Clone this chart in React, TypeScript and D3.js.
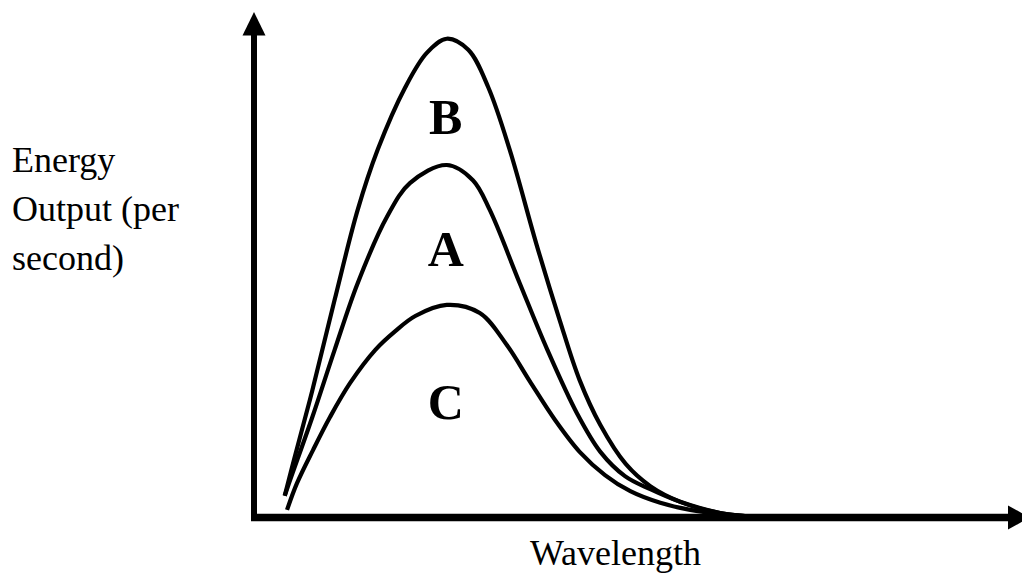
import { useEffect, useRef } from "react";
import * as d3 from "d3";

// [wavelength, energy] (arbitrary units)
const curveB: [number, number][] = [
  [0.4, 0.43], [0.52, 1.14], [0.76, 2.52], [1.05, 4.31], [1.35, 6.09],
  [1.61, 7.28], [1.97, 8.52], [2.25, 9.2], [2.51, 9.48], [2.79, 9.26],
  [3.05, 8.52], [3.33, 7.28], [3.68, 5.4], [3.98, 3.91], [4.24, 2.72],
  [4.51, 1.83], [4.84, 1.06], [5.16, 0.62], [5.55, 0.31], [6.07, 0.09],
  [6.59, 0.01], [7.17, 0],
];
const curveA: [number, number][] = [
  [0.4, 0.43], [0.47, 0.74], [0.76, 1.99], [1.05, 3.32], [1.35, 4.64],
  [1.73, 5.95], [2.03, 6.62], [2.51, 6.98], [2.85, 6.68], [3.07, 6.09],
  [3.46, 4.64], [3.82, 3.32], [4.21, 2.05], [4.51, 1.3], [4.83, 0.82],
  [5.16, 0.56], [5.55, 0.31], [6.07, 0.09], [6.59, 0.01], [7.17, 0],
];
const curveC: [number, number][] = [
  [0.43, 0.15], [0.56, 0.68], [0.77, 1.34], [0.99, 1.99], [1.25, 2.66],
  [1.58, 3.32], [1.84, 3.69], [2.1, 3.99], [2.51, 4.21], [2.94, 4.05],
  [3.29, 3.42], [3.59, 2.7], [3.92, 1.93], [4.24, 1.3], [4.57, 0.84],
  [4.9, 0.52], [5.29, 0.29], [5.68, 0.15], [6.07, 0.07], [6.59, 0.01], [7.17, 0],
];
const series = [curveB, curveA, curveC];

const curveLabels = ["B", "A", "C"];
const labelPos: [number, number][] = [[2.51, 7.6], [2.51, 4.99], [2.51, 1.95]];
const yTitle = ["Energy", "Output (per", "second)"];
const xTitle = "Wavelength";

export default function App() {
  const ref = useRef<SVGSVGElement>(null);

  useEffect(() => {
    const width = 1022;
    const height = 573;
    const svg = d3.select(ref.current);
    svg.selectAll("*").remove();

    const x = d3.scaleLinear().domain([0, 10]).range([254, 1022]);
    const y = d3.scaleLinear().domain([0, 10]).range([517.5, 12.5]);
    const serif = "'Liberation Serif', 'Times New Roman', Times, serif";

    const x0 = x(0);
    const y0 = y(0);

    // y axis with arrow
    svg.append("line")
      .attr("x1", x0).attr("x2", x0)
      .attr("y1", y0 + 3.5).attr("y2", y(10) + 22)
      .attr("stroke", "#000").attr("stroke-width", 6);
    svg.append("path")
      .attr("d", `M${x0},${y(10) - 0.5}L${x0 - 11.5},${y(10) + 23}L${x0 + 11.5},${y(10) + 23}Z`)
      .attr("fill", "#000");

    // x axis with arrow
    svg.append("line")
      .attr("x1", x0 - 3).attr("x2", x(10) - 14)
      .attr("y1", y0).attr("y2", y0)
      .attr("stroke", "#000").attr("stroke-width", 7.5);
    svg.append("path")
      .attr("d", `M${x(10) + 8},${y0}L${x(10) - 14},${y0 - 12}L${x(10) - 14},${y0 + 12}Z`)
      .attr("fill", "#000");

    const line = d3.line<[number, number]>()
      .x((d) => x(d[0]))
      .y((d) => y(d[1]))
      .curve(d3.curveCatmullRom.alpha(0.5));

    svg.selectAll("path.curve")
      .data(series)
      .enter()
      .append("path")
      .attr("class", "curve")
      .attr("d", (d) => line(d))
      .attr("fill", "none")
      .attr("stroke", "#000")
      .attr("stroke-width", 4.2);

    svg.selectAll("text.lbl")
      .data(curveLabels)
      .enter()
      .append("text")
      .attr("class", "lbl")
      .attr("x", (_, i) => x(labelPos[i][0]) - 1)
      .attr("y", (_, i) => y(labelPos[i][1]))
      .attr("text-anchor", "middle")
      .attr("font-family", serif)
      .attr("font-weight", "bold")
      .attr("font-size", 50)
      .text((d) => d);

    svg.selectAll("text.ytitle")
      .data(yTitle)
      .enter()
      .append("text")
      .attr("class", "ytitle")
      .attr("x", 12)
      .attr("y", (_, i) => 172 + i * 49)
      .attr("font-family", serif)
      .attr("font-size", 36)
      .text((d) => d);

    svg.append("text")
      .attr("x", 615.5)
      .attr("y", 565)
      .attr("text-anchor", "middle")
      .attr("font-family", serif)
      .attr("font-size", 36)
      .text(xTitle);

    svg.attr("width", width).attr("height", height);
  }, []);

  return (
    <svg
      ref={ref}
      width={1022}
      height={573}
      style={{ position: "absolute", left: 0, top: 0, background: "#fff" }}
    />
  );
}
